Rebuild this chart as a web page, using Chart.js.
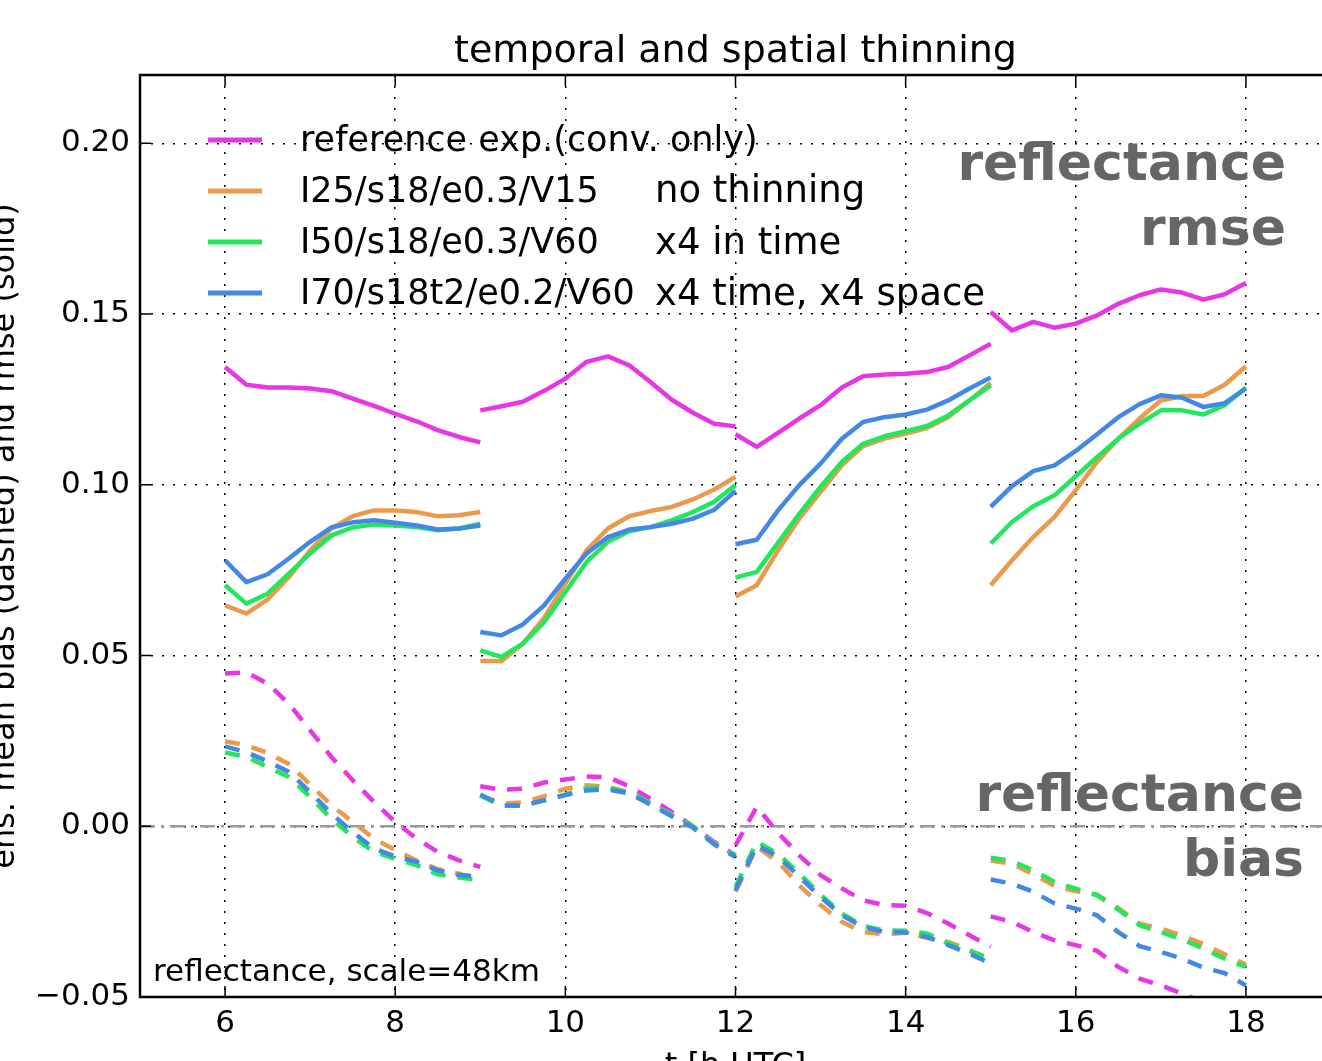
<!DOCTYPE html>
<html>
<head>
<meta charset="utf-8">
<script src="https://cdn.jsdelivr.net/npm/chart.js@4.4.1/dist/chart.umd.min.js"></script>
<style>
html,body{margin:0;padding:0;overflow:hidden;background:#fff;}
canvas{display:block;}
</style>
</head>
<body>
<canvas id="c" width="1340" height="1061"></canvas>
<script>
// ---- data (time in h UTC, four 3-hour windows of 15-min steps) ----
const times = [
  [6,6.25,6.5,6.75,7,7.25,7.5,7.75,8,8.25,8.5,8.75,9],
  [9,9.25,9.5,9.75,10,10.25,10.5,10.75,11,11.25,11.5,11.75,12],
  [12,12.25,12.5,12.75,13,13.25,13.5,13.75,14,14.25,14.5,14.75,15],
  [15,15.25,15.5,15.75,16,16.25,16.5,16.75,17,17.25,17.5,17.75,18]
];
const xTicks = [6,8,10,12,14,16,18];
const yTicks = [-0.05,0,0.05,0.10,0.15,0.20];

const labels = ['reference exp.(conv. only)','I25/s18/e0.3/V15','I50/s18/e0.3/V60','I70/s18t2/e0.2/V60'];
const notes  = ['no thinning','x4 in time','x4 time, x4 space'];
const colors = ['#e636e6','#eb9a4b','#22e65c','#4288e6'];

// rmse (solid)
const rmseRef = [
  [0.1345,0.1293,0.1285,0.1285,0.1282,0.1274,0.1252,0.1231,0.1208,0.1186,0.1160,0.1140,0.1124],
  [0.1218,0.1230,0.1243,0.1275,0.1311,0.1360,0.1376,0.1350,0.1301,0.1249,0.1211,0.1179,0.1171],
  [0.1148,0.1111,0.1152,0.1194,0.1233,0.1285,0.1318,0.1323,0.1325,0.1330,0.1345,0.1379,0.1413],
  [0.1506,0.1452,0.1477,0.1460,0.1472,0.1496,0.1530,0.1555,0.1572,0.1563,0.1542,0.1558,0.1591]
];
const rmseI25 = [
  [0.0647,0.0623,0.0664,0.0730,0.0808,0.0872,0.0908,0.0925,0.0925,0.0920,0.0908,0.0911,0.0920],
  [0.0484,0.0484,0.0535,0.0610,0.0711,0.0808,0.0872,0.0908,0.0923,0.0935,0.0957,0.0986,0.1023],
  [0.0673,0.0706,0.0808,0.0901,0.0979,0.1057,0.1113,0.1135,0.1150,0.1166,0.1198,0.1247,0.1298],
  [0.0706,0.0779,0.0847,0.0906,0.0984,0.1067,0.1135,0.1194,0.1247,0.1260,0.1260,0.1293,0.1347]
];
const rmseI50 = [
  [0.0706,0.0652,0.0681,0.0740,0.0799,0.0852,0.0875,0.0884,0.0881,0.0876,0.0867,0.0872,0.0886],
  [0.0515,0.0496,0.0535,0.0598,0.0686,0.0774,0.0833,0.0864,0.0876,0.0896,0.0920,0.0950,0.0999],
  [0.0728,0.0745,0.0830,0.0915,0.0994,0.1067,0.1120,0.1142,0.1157,0.1172,0.1203,0.1247,0.1291],
  [0.0828,0.0891,0.0937,0.0969,0.1025,0.1081,0.1135,0.1179,0.1218,0.1218,0.1206,0.1233,0.1285]
];
const rmseI70 = [
  [0.0779,0.0715,0.0738,0.0784,0.0833,0.0875,0.0890,0.0896,0.0889,0.0881,0.0869,0.0872,0.0881],
  [0.0569,0.0559,0.0591,0.0647,0.0725,0.0799,0.0847,0.0869,0.0876,0.0886,0.0901,0.0927,0.0982],
  [0.0826,0.0839,0.0925,0.0999,0.1062,0.1135,0.1184,0.1198,0.1206,0.1220,0.1247,0.1282,0.1314],
  [0.0935,0.0996,0.1040,0.1057,0.1099,0.1148,0.1198,0.1236,0.1262,0.1255,0.1228,0.1239,0.1282]
];
// mean bias (dashed)
const biasRef = [
  [0.0447,0.0451,0.0418,0.0359,0.0281,0.0203,0.0135,0.0071,0.0013,-0.0036,-0.0075,-0.0100,-0.0119],
  [0.0117,0.0107,0.0110,0.0128,0.0137,0.0146,0.0144,0.0117,0.0081,0.0042,0.0000,-0.0046,-0.0085],
  [-0.0056,0.0057,-0.0019,-0.0085,-0.0143,-0.0182,-0.0217,-0.0231,-0.0233,-0.0254,-0.0285,-0.0319,-0.0353],
  [-0.0264,-0.0280,-0.0310,-0.0334,-0.0348,-0.0365,-0.0412,-0.0446,-0.0466,-0.0490,-0.0515,-0.0530,-0.0550]
];
const biasI25 = [
  [0.0249,0.0237,0.0215,0.0182,0.0122,0.0061,0.0013,-0.0036,-0.0070,-0.0100,-0.0126,-0.0139,-0.0156],
  [0.0090,0.0067,0.0070,0.0088,0.0110,0.0120,0.0115,0.0100,0.0068,0.0033,0.0000,-0.0050,-0.0088],
  [-0.0192,-0.0060,-0.0104,-0.0173,-0.0231,-0.0280,-0.0310,-0.0316,-0.0312,-0.0327,-0.0339,-0.0362,-0.0392],
  [-0.0100,-0.0110,-0.0140,-0.0175,-0.0190,-0.0200,-0.0240,-0.0285,-0.0300,-0.0320,-0.0345,-0.0375,-0.0405]
];
const biasI50 = [
  [0.0216,0.0203,0.0174,0.0144,0.0086,0.0022,-0.0031,-0.0075,-0.0095,-0.0114,-0.0141,-0.0150,-0.0158],
  [0.0090,0.0060,0.0060,0.0076,0.0093,0.0112,0.0112,0.0100,0.0068,0.0033,0.0000,-0.0050,-0.0085],
  [-0.0178,-0.0046,-0.0080,-0.0139,-0.0200,-0.0256,-0.0292,-0.0305,-0.0306,-0.0314,-0.0344,-0.0365,-0.0388],
  [-0.0092,-0.0102,-0.0129,-0.0163,-0.0183,-0.0202,-0.0244,-0.0290,-0.0310,-0.0332,-0.0358,-0.0388,-0.0412]
];
const biasI70 = [
  [0.0234,0.0217,0.0190,0.0159,0.0100,0.0037,-0.0017,-0.0065,-0.0088,-0.0104,-0.0129,-0.0143,-0.0148],
  [0.0093,0.0061,0.0061,0.0076,0.0091,0.0105,0.0108,0.0096,0.0064,0.0029,-0.0004,-0.0053,-0.0090],
  [-0.0187,-0.0056,-0.0088,-0.0148,-0.0207,-0.0261,-0.0295,-0.0310,-0.0311,-0.0324,-0.0348,-0.0373,-0.0402],
  [-0.0156,-0.0168,-0.0192,-0.0226,-0.0241,-0.0261,-0.0310,-0.0351,-0.0368,-0.0388,-0.0414,-0.0430,-0.0466]
];

// ---- build datasets ----
function toPoints(segs){
  const pts = [];
  segs.forEach((seg, s) => {
    seg.forEach((v, i) => pts.push({x: times[s][i], y: v}));
    pts.push({x: times[s][times[s].length-1], y: null});
  });
  return pts;
}
const rmseAll = [rmseRef, rmseI25, rmseI50, rmseI70];
const biasAll = [biasRef, biasI25, biasI50, biasI70];
const datasets = [];
for (let k = 0; k < 4; k++) {
  datasets.push({label: labels[k], data: toPoints(rmseAll[k]), borderColor: colors[k],
    borderWidth: 4.5, pointRadius: 0, tension: 0, spanGaps: false, order: 3-k, borderCapStyle: 'butt', borderJoinStyle: 'round'});
  datasets.push({label: labels[k] + ' bias', data: toPoints(biasAll[k]), borderColor: colors[k],
    borderWidth: 4.5, pointRadius: 0, tension: 0, spanGaps: false, order: 3-k, borderDash: [15, 12], borderCapStyle: 'butt'});
}

const FONT = "'DejaVu Sans', sans-serif";

const decor = {
  id: 'decor',
  beforeDatasetsDraw(chart) {
    const {ctx, chartArea: a, scales: {x, y}} = chart;
    ctx.save();
    const y0 = y.getPixelForValue(0);
    ctx.strokeStyle = '#9a9a9a';
    ctx.lineWidth = 2.5;
    ctx.setLineDash([15, 6, 3, 6]);
    ctx.beginPath(); ctx.moveTo(a.left, y0); ctx.lineTo(a.right, y0); ctx.stroke();
    ctx.restore();
  },
  afterDraw(chart) {
    const {ctx, chartArea: a, scales: {x, y}} = chart;
    ctx.save();
    ctx.setLineDash([]);
    ctx.strokeStyle = '#000';
    ctx.lineWidth = 2.5;
    ctx.beginPath();
    ctx.moveTo(a.right, a.top); ctx.lineTo(a.left, a.top); ctx.lineTo(a.left, a.bottom); ctx.lineTo(a.right, a.bottom);
    ctx.stroke();
    ctx.lineWidth = 1.5;
    ctx.beginPath();
    xTicks.forEach(v => {
      const px = x.getPixelForValue(v);
      ctx.moveTo(px, a.bottom); ctx.lineTo(px, a.bottom - 11);
      ctx.moveTo(px, a.top); ctx.lineTo(px, a.top + 11);
    });
    yTicks.forEach(v => {
      const py = y.getPixelForValue(v);
      ctx.moveTo(a.left, py); ctx.lineTo(a.left + 11, py);
    });
    ctx.stroke();

    ctx.fillStyle = '#000';
    ctx.textAlign = 'center';
    ctx.textBaseline = 'alphabetic';
    ctx.font = '38px ' + FONT;
    ctx.fillText('temporal and spatial thinning', (a.left + a.right) / 2, 62);

    ctx.font = '32px ' + FONT;
    ctx.fillText('t [h UTC]', (a.left + a.right) / 2, 1075);
    ctx.save();
    ctx.translate(14, (a.top + a.bottom) / 2);
    ctx.rotate(-Math.PI / 2);
    ctx.fillText('ens. mean bias (dashed) and rmse (solid)', 0, 0);
    ctx.restore();

    ctx.textAlign = 'left';
    for (let k = 0; k < 4; k++) {
      const ly = 140 + k * 51;
      ctx.strokeStyle = colors[k];
      ctx.lineWidth = 5;
      ctx.setLineDash([]);
      ctx.beginPath(); ctx.moveTo(208, ly); ctx.lineTo(262, ly); ctx.stroke();
      ctx.fillStyle = '#000';
      ctx.font = '35px ' + FONT;
      ctx.fillText(labels[k], 300, ly + 11);
    }
    ctx.font = '37px ' + FONT;
    notes.forEach((t, i) => ctx.fillText(t, 655, 202 + i * 51.5));

    ctx.fillStyle = '#666666';
    ctx.textAlign = 'right';
    ctx.font = 'bold 52px ' + FONT;
    ctx.fillText('reflectance', 1286, 180);
    ctx.fillText('rmse', 1286, 245);
    ctx.fillText('reflectance', 1304, 811);
    ctx.fillText('bias', 1304, 876);

    ctx.fillStyle = '#000';
    ctx.textAlign = 'left';
    ctx.font = '31px ' + FONT;
    ctx.fillText('reflectance, scale=48km', 153, 981);
    ctx.restore();
  }
};

new Chart(document.getElementById('c'), {
  type: 'line',
  data: {datasets},
  options: {
    responsive: false,
    animation: false,
    devicePixelRatio: 1,
    layout: {padding: {top: 75, right: 9, left: 0, bottom: 0}},
    plugins: {legend: {display: false}, title: {display: false}, tooltip: {enabled: false}},
    scales: {
      x: {
        type: 'linear', min: 5, max: 19,
        afterFit(s) { s.height = 64; s.paddingLeft = 0; s.paddingRight = 0; },
        afterBuildTicks(s) { s.ticks = xTicks.map(v => ({value: v})); },
        ticks: {color: '#000', padding: 8,
          font: {family: 'DejaVu Sans', size: 31}, maxRotation: 0, autoSkip: false,
          callback: v => String(v)},
        grid: {color: '#000', lineWidth: 1.5, drawTicks: false},
        border: {display: false, dash: [2, 9]}
      },
      y: {
        min: -0.05, max: 0.22,
        afterFit(s) { s.width = 140; },
        afterBuildTicks(s) { s.ticks = yTicks.map(v => ({value: v})); },
        ticks: {color: '#000', padding: 10,
          font: {family: 'DejaVu Sans', size: 31},
          callback: v => Math.abs(v) < 1e-9 ? '0.00' : (v < 0 ? '\u2212' : '') + Math.abs(v).toFixed(2)},
        grid: {color: '#000', lineWidth: 1.5, drawTicks: false},
        border: {display: false, dash: [2, 9]}
      }
    }
  },
  plugins: [decor]
});
</script>
</body>
</html>
